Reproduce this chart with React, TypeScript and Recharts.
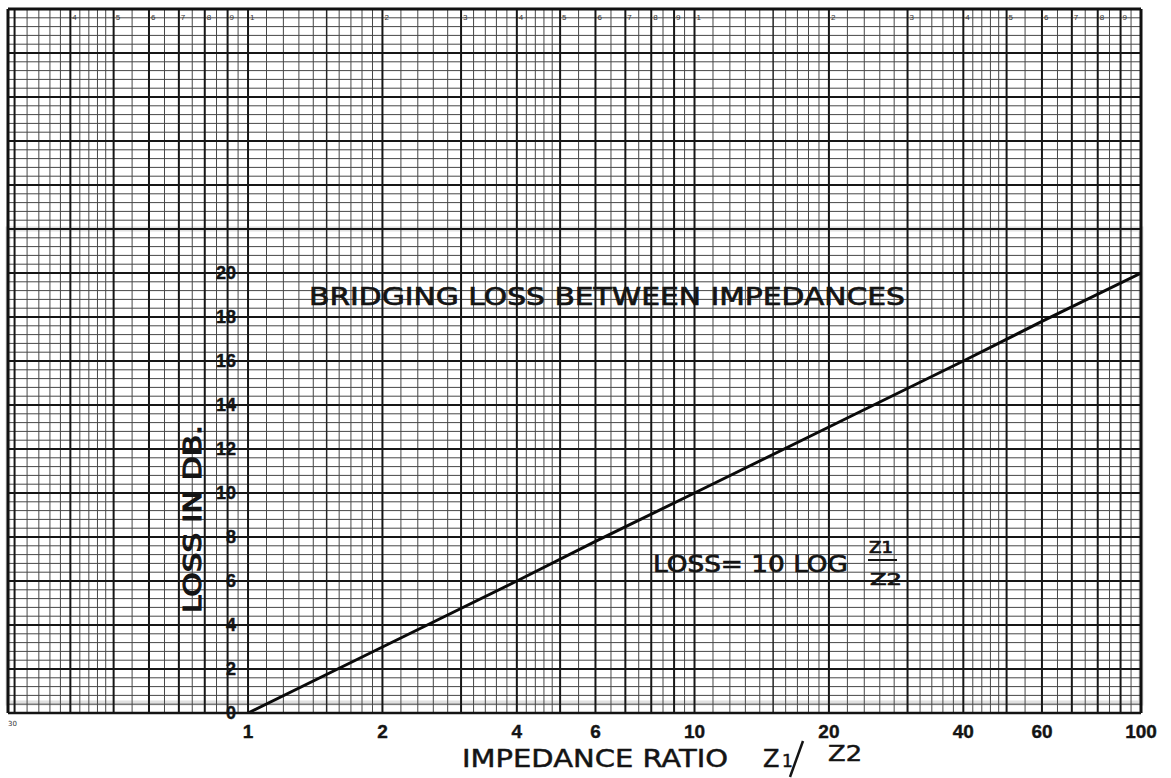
import React from 'react';
import { LineChart, Line, XAxis, YAxis, ReferenceLine, ReferenceDot, ReferenceArea } from 'recharts';

// ---- data ----
const ratios = [1, 2, 4, 6, 10, 20, 40, 60, 100];
const lossDb = [0, 3.0, 6.0, 7.8, 10.0, 13.0, 16.0, 17.8, 20.0];

const xTickValues = [1, 2, 4, 6, 10, 20, 40, 60, 100];
const yTickValues = [0, 2, 4, 6, 8, 10, 12, 14, 16, 18, 20];

const xDomain = [0.29, 100];
const yDomain = [0, 32];

// graph-paper rulings: [start, end, step]
const xRulingBands = [
  [0.3, 0.5, 0.02],
  [0.5, 1, 0.05],
  [1, 2, 0.1],
  [2, 5, 0.2],
  [5, 10, 0.5],
  [10, 20, 1],
  [20, 50, 2],
  [50, 100, 5],
];
const xHeavyRulings = [0.3, 0.4, 0.5, 0.6, 0.7, 0.8, 0.9, 1, 2, 3, 4, 5, 6, 7, 8, 9, 10, 20, 30, 40, 50, 60, 70, 80, 90, 100];
const xMediumRulings = [1.5, 15];
const yRulingStep = 0.4;
const yHeavyStep = 2;

// small printed numbers along the top edge of the log paper
const paperMarkValues = [0.4, 0.5, 0.6, 0.7, 0.8, 0.9, 1, 2, 3, 4, 5, 6, 7, 8, 9, 10, 20, 30, 40, 50, 60, 70, 80, 90];
const paperMarkLabels = ['4', '5', '6', '7', '8', '9', '1', '2', '3', '4', '5', '6', '7', '8', '9', '1', '2', '3', '4', '5', '6', '7', '8', '9'];

const round = (v: number) => Math.round(v * 10000) / 10000;

const xMinor: number[] = [];
xRulingBands.forEach(([s, e, st]) => {
  for (let k = 0; s + k * st < e - 1e-9; k++) {
    const v = round(s + k * st);
    if (!xHeavyRulings.includes(v) && !xMediumRulings.includes(v)) xMinor.push(v);
  }
});

const yMinor: number[] = [];
const yHeavy: number[] = [];
for (let k = 0; round(k * yRulingStep) <= yDomain[1]; k++) {
  const v = round(k * yRulingStep);
  if (Math.abs(v / yHeavyStep - Math.round(v / yHeavyStep)) < 1e-6) yHeavy.push(v);
  else yMinor.push(v);
}

const chartData = ratios.map((r, i) => ({ ratio: r, loss: lossDb[i] }));

const FONT = '"DejaVu Sans", "Liberation Sans", sans-serif';
const NUMFONT = '"Liberation Sans", "DejaVu Sans", sans-serif';
const INK = '#141414';

export default function App() {
  return (
    <div style={{ position: 'absolute', left: 0, top: 0, width: 1171, height: 778, background: '#fff', overflow: 'hidden' }}>
      <LineChart width={1171} height={778} data={chartData} margin={{ top: 9, right: 30, bottom: 35, left: 8 }}>
        <XAxis
          dataKey="ratio"
          type="number"
          scale="log"
          domain={xDomain}
          allowDataOverflow
          ticks={xTickValues}
          interval={0}
          height={30}
          tickLine={false}
          axisLine={{ stroke: INK, strokeWidth: 2.5 }}
          tick={{ fill: INK, stroke: INK, strokeWidth: 0.4, fontSize: 19, fontWeight: 700, fontFamily: NUMFONT }}
          tickMargin={6}
        />
        <YAxis type="number" domain={yDomain} allowDataOverflow hide />

        {xMinor.map((v) => (
          <ReferenceLine key={'xm' + v} x={v} stroke="#474747" strokeWidth={1} ifOverflow="hidden" />
        ))}
        {yMinor.map((v) => (
          <ReferenceLine key={'ym' + v} y={v} stroke="#474747" strokeWidth={1} ifOverflow="hidden" />
        ))}
        {xMediumRulings.map((v) => (
          <ReferenceLine key={'xd' + v} x={v} stroke="#262626" strokeWidth={1.5} ifOverflow="hidden" />
        ))}
        {xHeavyRulings.map((v) => (
          <ReferenceLine key={'xh' + v} x={v} stroke="#161616" strokeWidth={2} ifOverflow="hidden" />
        ))}
        {yHeavy.map((v) => (
          <ReferenceLine key={'yh' + v} y={v} stroke="#161616" strokeWidth={2} ifOverflow="hidden" />
        ))}
        <ReferenceLine x={xDomain[0]} stroke="#111" strokeWidth={3} />
        <ReferenceLine x={xDomain[1]} stroke="#111" strokeWidth={3} />
        <ReferenceLine y={yDomain[1]} stroke="#111" strokeWidth={3} />

        <ReferenceArea x1={xDomain[0]} x2={xDomain[1]} y1={0.45} y2={22} fill="none" stroke="#e0e0e0" strokeWidth={5} ifOverflow="visible" />

        {paperMarkValues.map((v, i) => (
          <ReferenceDot
            key={'pm' + v}
            x={v}
            y={31.65}
            r={0}
            fill="none"
            stroke="none"
            ifOverflow="visible"
            label={{ value: paperMarkLabels[i], position: 'right', offset: 2, fill: '#333', fontSize: 8, fontFamily: NUMFONT }}
          />
        ))}

        {yTickValues.map((v) => (
          <ReferenceDot
            key={'yl' + v}
            x={1}
            y={v}
            r={0}
            fill="none"
            stroke="none"
            ifOverflow="visible"
            label={{ value: String(v), position: 'left', offset: 12, fill: INK, stroke: INK, strokeWidth: 0.4, fontSize: 18, fontWeight: 700, fontFamily: NUMFONT }}
          />
        ))}

        <Line
          dataKey="loss"
          type="linear"
          stroke="#0a0a0a"
          strokeWidth={3}
          dot={false}
          activeDot={false}
          isAnimationActive={false}
        />
      </LineChart>

      <svg width={1171} height={778} style={{ position: 'absolute', left: 0, top: 0, pointerEvents: 'none' }}>
        <g fill={INK} stroke={INK} strokeWidth={0.7} fontFamily={FONT}>
          <text x={309} y={305} fontSize={25} textLength={596} lengthAdjust="spacingAndGlyphs">BRIDGING LOSS BETWEEN IMPEDANCES</text>
          <text x={653} y={572} fontSize={23} textLength={195} lengthAdjust="spacingAndGlyphs">LOSS= 10 LOG</text>
          <text x={869} y={553} fontSize={15} textLength={24} lengthAdjust="spacingAndGlyphs">Z1</text>
          <line x1={868} y1={560} x2={897} y2={560} stroke={INK} strokeWidth={2} />
          <text x={870} y={585} fontSize={15} textLength={32} lengthAdjust="spacingAndGlyphs">Z2</text>
          <text transform="translate(201,519) rotate(-90)" textAnchor="middle" fontSize={24} strokeWidth={1.1} textLength={188} lengthAdjust="spacingAndGlyphs">LOSS IN DB.</text>
          <text x={462} y={767} fontSize={25} strokeWidth={0.5} textLength={266} lengthAdjust="spacingAndGlyphs">IMPEDANCE RATIO</text>
          <text x={763} y={767} fontSize={24} strokeWidth={0.5}>Z</text>
          <text x={782} y={767} fontSize={17} strokeWidth={0.5}>1</text>
          <line x1={790} y1={777} x2={803} y2={741} stroke={INK} strokeWidth={2.5} />
          <text x={828} y={761} fontSize={21} strokeWidth={0.5} textLength={34} lengthAdjust="spacingAndGlyphs">Z2</text>
          <text x={8} y={726} fontSize={7} fill="#333" stroke="none">30</text>
        </g>
      </svg>
    </div>
  );
}
